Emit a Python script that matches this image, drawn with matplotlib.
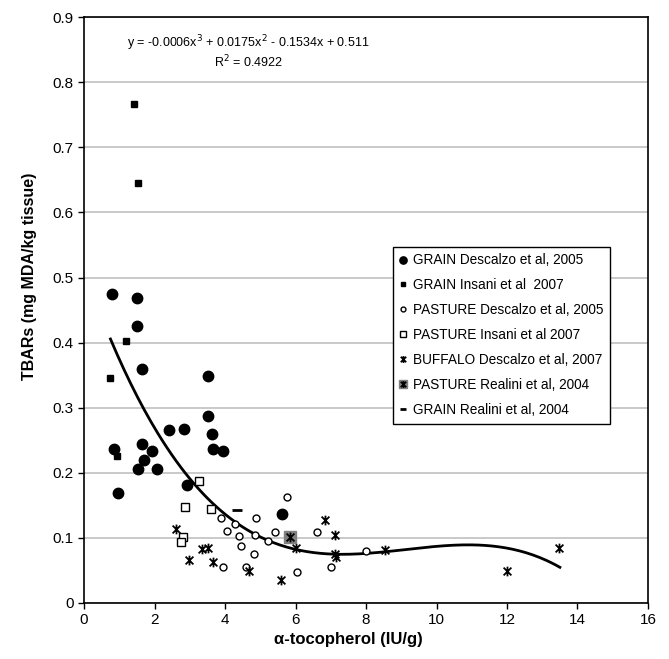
import numpy as np
import matplotlib.pyplot as plt
from matplotlib.path import Path
from matplotlib.legend_handler import HandlerTuple

plt.rcParams['font.family'] = ['Liberation Sans', 'DejaVu Sans']

# GRAIN Descalzo et al, 2005 (filled circles)
grain_desc_x = [0.78, 1.50, 1.50, 1.65, 3.53, 3.53, 2.42, 2.85, 3.63, 0.85, 1.65, 1.94,
                3.67, 3.95, 1.69, 1.53, 2.08, 2.93, 5.61, 0.97]
grain_desc_y = [0.475, 0.468, 0.426, 0.359, 0.348, 0.288, 0.265, 0.267, 0.260, 0.236, 0.245, 0.234,
                0.236, 0.234, 0.220, 0.206, 0.206, 0.181, 0.136, 0.169]

# GRAIN Insani et al 2007 (filled squares)
grain_ins_x = [1.42, 1.53, 1.19, 0.75, 0.93]
grain_ins_y = [0.766, 0.645, 0.402, 0.345, 0.226]

# PASTURE Descalzo et al, 2005 (open circles)
past_desc_x = [5.75, 3.90, 4.89, 4.28, 4.06, 5.41, 4.40, 4.85, 5.22, 4.44, 4.82, 3.95,
               4.60, 6.05, 7.00, 6.62, 8.01]
past_desc_y = [0.163, 0.130, 0.130, 0.121, 0.111, 0.109, 0.103, 0.105, 0.095, 0.087, 0.076, 0.056,
               0.056, 0.048, 0.056, 0.109, 0.080]

# PASTURE Insani et al 2007 (open squares)
past_ins_x = [3.27, 2.86, 3.60, 2.81, 2.75]
past_ins_y = [0.187, 0.148, 0.145, 0.102, 0.093]

# BUFFALO Descalzo et al, 2007
buff_x = [2.60, 2.98, 3.36, 3.51, 3.66, 4.67, 5.58, 6.00, 6.83, 7.13, 7.13, 7.15, 8.53, 13.47, 12.0]
buff_y = [0.113, 0.066, 0.083, 0.084, 0.063, 0.049, 0.035, 0.084, 0.127, 0.104, 0.076, 0.071, 0.082, 0.084, 0.049]

# PASTURE Realini et al, 2004
past_real_x = [5.84]
past_real_y = [0.101]

# GRAIN Realini et al, 2004
grain_real_x = [4.34]
grain_real_y = [0.143]

# polynomial trendline (3rd order)
trend_coef = [-0.00064, 0.0175, -0.1534, 0.511]
trend_range = [0.75, 13.5]

# asterisk marker: X with a vertical bar
ast = Path([(-1, -1), (1, 1), (-1, 1), (1, -1), (0, -1.25), (0, 1.25)],
           [Path.MOVETO, Path.LINETO, Path.MOVETO, Path.LINETO, Path.MOVETO, Path.LINETO])

fig = plt.figure(figsize=(6.69, 6.59), dpi=100)
ax = fig.add_axes([0.1256, 0.085, 0.843, 0.889])

tx = np.linspace(trend_range[0], trend_range[1], 200)
ax.plot(tx, np.polyval(trend_coef, tx), color='black', lw=2, zorder=3)

h1, = ax.plot(grain_desc_x, grain_desc_y, 'o', color='black', ms=7.5, ls='none', zorder=4)
h2, = ax.plot(grain_ins_x, grain_ins_y, 's', color='black', ms=5, ls='none', zorder=4)
h3, = ax.plot(past_desc_x, past_desc_y, 'o', mfc='white', mec='black', mew=1, ms=5, ls='none', zorder=4)
h4, = ax.plot(past_ins_x, past_ins_y, 's', mfc='white', mec='black', mew=1, ms=5.5, ls='none', zorder=4)
h5, = ax.plot(buff_x, buff_y, marker=ast, color='black', mew=1.3, ms=7, ls='none', zorder=4)
h6a, = ax.plot(past_real_x, past_real_y, 's', color='#808080', ms=9, ls='none', zorder=4)
h6b, = ax.plot(past_real_x, past_real_y, marker=ast, color='black', mew=1.3, ms=7, ls='none', zorder=5)
h7, = ax.plot(grain_real_x, grain_real_y, '_', color='black', mew=2, ms=7, ls='none', zorder=4)

ax.set_xlim(0, 16)
ax.set_ylim(0, 0.9)
ax.set_xticks(np.arange(0, 17, 2))
ax.set_yticks(np.arange(0, 0.91, 0.1))
ax.set_yticklabels(['0', '0.1', '0.2', '0.3', '0.4', '0.5', '0.6', '0.7', '0.8', '0.9'])
ax.tick_params(direction='out', length=4, width=1, labelsize=11, colors='black')
ax.yaxis.grid(True, color='#c0c0c0', lw=1.2)
ax.set_axisbelow(True)
for s in ax.spines.values():
    s.set_linewidth(1.2)

ax.set_xlabel('α-tocopherol (IU/g)', fontsize=12, fontweight='bold')
ax.xaxis.set_label_coords(0.468, -0.05)
ax.set_ylabel('TBARs (mg MDA/kg tissue)', fontsize=11.5, fontweight='bold')
ax.yaxis.set_label_coords(-0.083, 0.557)

ax.text(0.292, 0.955, 'y = -0.0006x$^3$ + 0.0175x$^2$ - 0.1534x + 0.511', transform=ax.transAxes,
        ha='center', va='center', fontsize=9)
ax.text(0.292, 0.924, 'R$^2$ = 0.4922', transform=ax.transAxes, ha='center', va='center', fontsize=9)

leg = ax.legend([h1, h2, h3, h4, h5, (h6a, h6b), h7],
                ['GRAIN Descalzo et al, 2005', 'GRAIN Insani et al  2007', 'PASTURE Descalzo et al, 2005',
                 'PASTURE Insani et al 2007', 'BUFFALO Descalzo et al, 2007', 'PASTURE Realini et al, 2004',
                 'GRAIN Realini et al, 2004'],
                handler_map={tuple: HandlerTuple(ndivide=1)},
                loc='upper left', bbox_to_anchor=(0.535, 0.62), fontsize=9.8, markerscale=0.7,
                handlelength=0.6, handletextpad=0.4, labelspacing=0.8, borderpad=0.5,
                fancybox=False, edgecolor='black', framealpha=1)
leg.get_frame().set_linewidth(1)

fig.savefig('out.png', dpi=100)
